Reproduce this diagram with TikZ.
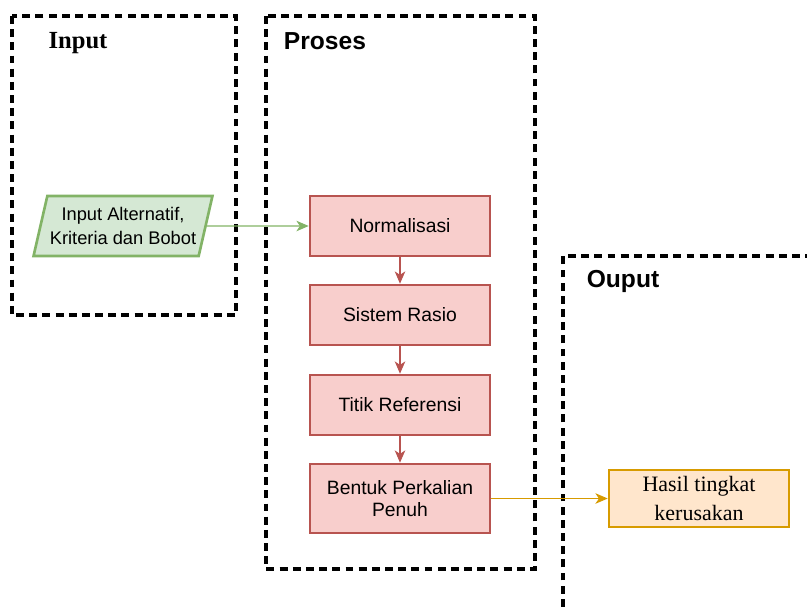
\documentclass[tikz,border=0pt]{standalone}
\usepackage{fontspec}
\setmainfont{Liberation Serif}
\setsansfont{Liberation Sans}
\usetikzlibrary{arrows.meta,shapes.geometric,positioning}
\definecolor{procfill}{HTML}{F8CECC}
\definecolor{procline}{HTML}{B85450}
\definecolor{datafill}{HTML}{D5E8D4}
\definecolor{dataline}{HTML}{82B366}
\definecolor{resfill}{HTML}{FFE6CC}
\definecolor{resline}{HTML}{D79B00}
\begin{document}
\begin{tikzpicture}[x=0.02cm,y=-0.02cm,
  group/.style={draw=black,line width=1.8pt,dash pattern=on 4.5pt off 3pt},
  grouplabel/.style={inner sep=0pt,font=\sffamily\bfseries\fontsize{14}{16}\selectfont},
  procbox/.style={draw=procline,fill=procfill,line width=1.5pt,minimum width=3.6cm,
    minimum height=1.2cm,align=center,font=\sffamily\fontsize{11}{12.5}\selectfont},
  databox/.style={trapezium,trapezium left angle=75,trapezium right angle=105,
    trapezium stretches=true,draw=dataline,fill=datafill,line width=1.5pt,
    minimum width=3.6cm,minimum height=1.2cm,inner xsep=0pt,align=center,
    font=\sffamily\fontsize{10.4}{14}\selectfont},
  resbox/.style={draw=resline,fill=resfill,line width=1.5pt,minimum width=3.6cm,
    minimum height=1.14cm,align=center,font=\rmfamily\fontsize{12.5}{17}\selectfont},
  link/.style={line width=0.6pt,-{Stealth[length=7pt,width=6pt,inset=2pt]}}]
\useasboundingbox (0,0) rectangle (807,610);
% groups
\draw[group] (12,16) rectangle (236,315);
\draw[group] (266,16) rectangle (535,569);
\draw[group] (563,620) -- (563,256) -- (820,256);
\node[grouplabel,font=\rmfamily\bfseries\fontsize{14}{16}\selectfont] (lblinput) at (78,43) {Input};
\node[grouplabel] (lblproses) at (325,41) {Proses};
\node[grouplabel] (lblouput) at (623,281) {Ouput};
% steps
\node[databox] (input) at (123,226) {Input Alternatif,\\Kriteria dan Bobot};
\node[procbox] (norm) at (400,226) {Normalisasi};
\node[procbox] (rasio) at (400,315) {Sistem Rasio};
\node[procbox] (ref) at (400,405) {Titik Referensi};
\node[procbox,minimum height=1.38cm] (penuh) at (400,498.5) {Bentuk Perkalian\\Penuh};
\node[resbox] (hasil) at (699,498.5) {Hasil tingkat\\kerusakan};
% links
\draw[link,dataline] (input.east) -- (norm.west);
\draw[link,procline] (norm) -- (rasio);
\draw[link,procline] (rasio) -- (ref);
\draw[link,procline] (ref) -- (penuh);
\draw[link,resline] (penuh) -- (hasil);
\end{tikzpicture}
\end{document}
